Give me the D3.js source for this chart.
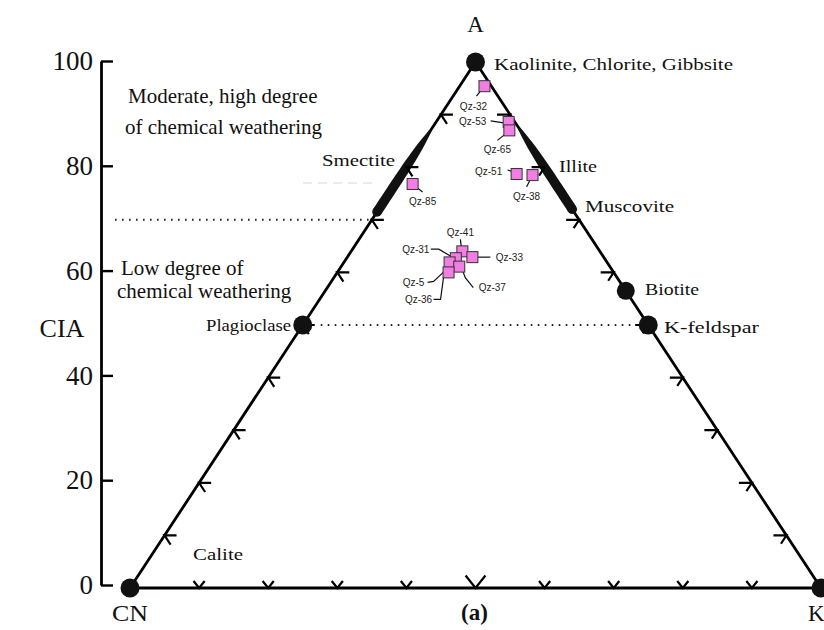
<!DOCTYPE html>
<html><head><meta charset="utf-8">
<script src="https://cdn.jsdelivr.net/npm/d3@7"></script>
<style>body{margin:0;background:#fff} svg{display:block}</style>
</head><body><svg id="chart" width="824" height="630"></svg>
<script>
// ---------- data ----------
const ciaTicks = [0, 20, 40, 60, 80, 100];
const edgeTicks = [10, 20, 30, 40, 50, 60, 70, 80, 90];
const mineralNames = ["Kaolinite, Chlorite, Gibbsite", "Biotite", "Plagioclase", "K-feldspar", "CN", "K"];
const mineralA = [100, 56.5, 50, 50, 0, 0];
const mineralK = [0, 43.5, 0, 50, 0, 100];
const smectiteRange = [71.5, 87];   // CIA span on A–CN edge
const illiteRange = [72, 87.5];     // CIA span on A–K edge
const weatheringLimit = 70;         // CIA boundary (dotted)
const feldsparTie = 50;             // Plagioclase–K-feldspar tie line
const sampleNames = ["Qz-32","Qz-53","Qz-65","Qz-51","Qz-38","Qz-85","Qz-41","Qz-33","Qz-31","Qz-5","Qz-37","Qz-36"];
const sampleA = [95.4, 88.6, 87.0, 78.7, 78.5, 76.8, 64.0, 62.9, 62.7, 61.9, 61.1, 60.0];
const sampleK = [3.6, 10.5, 11.4, 16.6, 19.0, 2.5, 16.1, 18.1, 15.8, 15.3, 17.1, 16.1];

// ---------- layout ----------
const svg = d3.select("#chart");
const serif = "'Liberation Serif','Times New Roman',serif";
const sans = "'Liberation Sans',Arial,sans-serif";
const y = d3.scaleLinear().domain([0, 100]).range([588, 62]);
const x = d3.scaleLinear().domain([0, 100]).range([130, 821]);
const yAxisScale = d3.scaleLinear().domain([0, 100]).range([585, 61]);
const P = (a, k) => [x(k + a / 2), y(a)];

const labelLayout = {
  "Qz-32": {dx: -11, dy: 23.5, l: [[-8,10],[-1,1]]},
  "Qz-53": {dx: -36, dy: 3.5, l: [[-18,-1],[-5,1]]},
  "Qz-65": {dx: -12, dy: 22.5, l: [[-12,10],[-2,2]]},
  "Qz-51": {dx: -28, dy: 0.5, l: [[-9,-4],[-3,-2]]},
  "Qz-38": {dx: -6, dy: 24.5, l: [[-6,12],[-1,2]]},
  "Qz-85": {dx: 10, dy: 20.5, l: [[1,1],[10,8]]},
  "Qz-41": {dx: -2, dy: -15.5, l: [[-2,-12],[-1,-4]]},
  "Qz-33": {dx: 37, dy: 3.5, l: [[18,0],[3,0]]},
  "Qz-31": {dx: -40, dy: -5.5, l: [[-25,-9],[-17,-9],[0,1]]},
  "Qz-5":  {dx: -36, dy: 23.5, l: [[-22,20],[-16,19],[-1,5]]},
  "Qz-37": {dx: 33, dy: 24.5, l: [[14,21],[6,11],[3,3]]},
  "Qz-36": {dx: -30, dy: 30.5, l: [[-15,27],[-8,27],[-5,5],[0,2]]}
};
const mineralLayout = {
  "Kaolinite, Chlorite, Gibbsite": {x: 494, y: 70, w: 239},
  "Biotite": {x: 645, y: 295, w: 54},
  "Plagioclase": {x: 206, y: 331, w: 85},
  "K-feldspar": {x: 664, y: 333, w: 95}
};

// ---------- axis ----------
const axis = svg.append("g").attr("transform", "translate(101,0)")
  .call(d3.axisLeft(yAxisScale).tickValues(ciaTicks).tickSizeInner(-12).tickSizeOuter(0).tickPadding(8));
axis.select(".domain").attr("stroke", "#000").attr("stroke-width", 2.8);
axis.selectAll(".tick line").attr("stroke", "#000").attr("stroke-width", 2.4);
axis.selectAll(".tick text").attr("font-family", serif).attr("font-size", 27).attr("fill", "#111");
svg.append("text").attr("x", 62).attr("y", 337).attr("text-anchor", "middle")
  .attr("font-family", serif).attr("font-size", 26).attr("fill", "#111").text("CIA");

// ---------- guide lines ----------
const pL70 = P(weatheringLimit, 0);
svg.append("line").attr("x1", 115).attr("x2", pL70[0]).attr("y1", pL70[1]).attr("y2", pL70[1])
  .attr("stroke", "#222").attr("stroke-width", 2).attr("stroke-dasharray", "1.6,5.4");
const pPl = P(feldsparTie, 0), pKf = P(feldsparTie, 50);
svg.append("line").attr("x1", pPl[0] + 18).attr("x2", pKf[0] - 12).attr("y1", pPl[1]).attr("y2", pPl[1])
  .attr("stroke", "#222").attr("stroke-width", 2).attr("stroke-dasharray", "1.6,5.4");
svg.append("line").attr("x1", 303).attr("x2", 372).attr("y1", y(77)).attr("y2", y(77))
  .attr("stroke", "#d8d8d8").attr("stroke-width", 1.2).attr("stroke-dasharray", "9,6");

// ---------- triangle ----------
const tri = [P(100, 0), P(0, 0), P(0, 100)];
svg.append("path").attr("d", d3.line()([...tri, tri[0]]))
  .attr("fill", "none").attr("stroke", "#000").attr("stroke-width", 2.8).attr("stroke-linejoin", "round");

// thick mineral bands (spindle shape: rounded bottom, tapered top)
const band = (p0, p1) => {
  const dx = p1[0] - p0[0], dy = p1[1] - p0[1], len = Math.hypot(dx, dy);
  const nx = -dy / len, ny = dx / len;
  const ts = d3.range(0, 1.0001, 0.05);
  const w = t => 4.8 * (1 - 0.75 * Math.pow(t, 4));
  const left = ts.map(t => [p0[0] + dx * t + nx * w(t), p0[1] + dy * t + ny * w(t)]);
  const right = ts.slice().reverse().map(t => [p0[0] + dx * t - nx * w(t), p0[1] + dy * t - ny * w(t)]);
  svg.append("path").attr("d", d3.line()([...left, ...right]) + "Z").attr("fill", "#111");
  svg.append("circle").attr("cx", p0[0]).attr("cy", p0[1]).attr("r", 4.8).attr("fill", "#111");
};
band(P(smectiteRange[0], 0), P(smectiteRange[1], 0));
band(P(illiteRange[0], 100 - illiteRange[0]), P(illiteRange[1], 100 - illiteRange[1]));

// chevron ticks
const ed = [0.55, 0.835];
const chev = (pts) => svg.append("path").attr("d", d3.line()(pts))
  .attr("fill", "none").attr("stroke", "#000").attr("stroke-width", 2.2);
edgeTicks.forEach(t => {
  const [lx, ly] = P(t, 0);
  chev([[lx + 12, ly], [lx, ly], [lx + ed[0] * 11, ly + ed[1] * 11]]);
  const [rx, ry] = P(t, 100 - t);
  chev([[rx - 13, ry], [rx, ry], [rx - ed[0] * 10, ry + ed[1] * 10]]);
  const [bx, by] = P(0, t);
  const s = t === 50 ? 16 : 9;
  chev([[bx - 0.62 * s, by - 0.78 * s], [bx, by], [bx + 0.62 * s, by - 0.78 * s]]);
});

// mineral dots
mineralNames.forEach((n, i) => {
  const [cx, cy] = P(mineralA[i], mineralK[i]);
  svg.append("circle").attr("cx", cx).attr("cy", cy).attr("r", i === 1 ? 9 : 9.5).attr("fill", "#111");
});

// ---------- samples ----------
const sg = svg.append("g");
sampleNames.forEach((n, i) => {
  const [cx, cy] = P(sampleA[i], sampleK[i]);
  const L = labelLayout[n];
  sg.append("path").attr("d", d3.line()(L.l.map(d => [cx + d[0], cy + d[1]])))
    .attr("fill", "none").attr("stroke", "#111").attr("stroke-width", 1.2);
  sg.append("text").attr("x", cx + L.dx).attr("y", cy + L.dy).attr("text-anchor", "middle")
    .attr("font-family", sans).attr("font-size", 10).attr("fill", "#222").text(n);
});
sampleNames.forEach((n, i) => {
  const [cx, cy] = P(sampleA[i], sampleK[i]);
  sg.append("rect").attr("x", cx - 5.5).attr("y", cy - 5.5).attr("width", 11).attr("height", 11)
    .attr("fill", "#f27de3").attr("stroke", "#333").attr("stroke-width", 1);
});

// ---------- labels ----------
const txt = (s, tx, ty, size, opts = {}) => {
  const t = svg.append("text").attr("x", tx).attr("y", ty).attr("font-family", serif)
    .attr("font-size", size).attr("fill", "#111").text(s);
  if (opts.w) t.attr("textLength", opts.w).attr("lengthAdjust", "spacingAndGlyphs");
  if (opts.anchor) t.attr("text-anchor", opts.anchor);
  if (opts.bold) t.attr("font-weight", "bold");
  return t;
};
Object.keys(mineralLayout).forEach(n => {
  const m = mineralLayout[n];
  txt(n, m.x, m.y, 17, {w: m.w});
});
txt("A", x(50), 32, 23, {anchor: "middle"});
txt("CN", 112, 621, 23, {w: 36});
txt("K", 808, 621, 23);
txt("(a)", x(50) - 1, 620, 23, {anchor: "middle", bold: true});
txt("Smectite", 322, 166, 17, {w: 73});
txt("Illite", 559, 172, 17, {w: 38});
txt("Muscovite", 585, 212, 17, {w: 89});
txt("Calite", 193, 560, 17, {w: 50});
txt("Moderate, high degree", 128, 103, 21);
txt("of chemical weathering", 125, 134, 21);
txt("Low degree of", 121, 275, 21);
txt("chemical weathering", 117, 298, 21);
</script></body></html>
